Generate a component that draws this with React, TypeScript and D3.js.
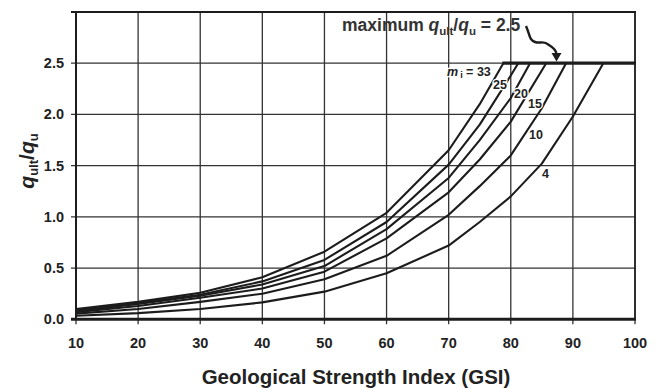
import React from "react";
import * as d3 from "d3";

const W = 660;
const H = 388;

const xTicks = [10, 20, 30, 40, 50, 60, 70, 80, 90, 100];
const yTicks = [0, 0.5, 1.0, 1.5, 2.0, 2.5, 3.0];
const yTickLabels = ["0.0", "0.5", "1.0", "1.5", "2.0", "2.5", ""];
const capValue = 2.5;

const series33: [number, number][] = [[10, 0.1], [20, 0.17], [30, 0.26], [40, 0.41], [50, 0.66], [60, 1.04], [70, 1.65], [75, 2.1], [78.8, 2.5]];
const series25: [number, number][] = [[10, 0.09], [20, 0.16], [30, 0.24], [40, 0.37], [50, 0.58], [60, 0.95], [70, 1.51], [75, 1.9], [80, 2.38], [81.2, 2.5]];
const series20: [number, number][] = [[10, 0.08], [20, 0.15], [30, 0.23], [40, 0.34], [50, 0.52], [60, 0.88], [70, 1.38], [75, 1.75], [80, 2.16], [83.1, 2.5]];
const series15: [number, number][] = [[10, 0.07], [20, 0.13], [30, 0.21], [40, 0.3], [50, 0.465], [60, 0.79], [70, 1.24], [75, 1.56], [80, 1.93], [85.7, 2.5]];
const series10: [number, number][] = [[10, 0.055], [20, 0.1], [30, 0.17], [40, 0.25], [50, 0.39], [60, 0.62], [70, 1.02], [75, 1.3], [80, 1.6], [85, 2.06], [88.9, 2.5]];
const series4: [number, number][] = [[10, 0.035], [20, 0.06], [30, 0.1], [40, 0.165], [50, 0.27], [60, 0.45], [70, 0.72], [75, 0.95], [80, 1.2], [85, 1.52], [90, 1.98], [94.9, 2.5]];

const allSeries = [series33, series25, series20, series15, series10, series4];

const left = 76;
const right = 635;
const top = 12;
const bottom = 319.3;

export default function App() {
  const x = d3.scaleLinear().domain([10, 100]).range([left, right]);
  const y = d3.scaleLinear().domain([0, 3]).range([bottom, top]);
  const line = d3
    .line<[number, number]>()
    .x((d) => x(d[0]))
    .y((d) => y(d[1]))
    .curve(d3.curveLinear);

  const ink = "#1c1c1c";
  const grid = "#333";
  const font = "'Liberation Sans', Arial, Helvetica, sans-serif";

  const capStart = d3.min(allSeries, (s) => s[s.length - 1][0]) as number;

  return (
    <svg
      width={W}
      height={H}
      style={{ position: "absolute", left: 0, top: 0, background: "#fff" }}
      fontFamily={font}
    >
      {/* grid */}
      {xTicks.map((t) => (
        <line key={"gx" + t} x1={x(t)} x2={x(t)} y1={y(3)} y2={bottom + 5} stroke={grid} strokeWidth={1.3} />
      ))}
      {yTicks.map((t) => (
        <line key={"gy" + t} x1={left - 5} x2={right} y1={y(t)} y2={y(t)} stroke={grid} strokeWidth={1.3} />
      ))}
      {/* borders */}
      <line x1={left - 5} x2={right + 1} y1={y(3)} y2={y(3)} stroke={ink} strokeWidth={2.2} />
      <line x1={left} x2={left} y1={y(3)} y2={bottom} stroke={ink} strokeWidth={2} />
      <line x1={right} x2={right} y1={y(3)} y2={bottom} stroke={ink} strokeWidth={1.6} />
      <line x1={left - 5} x2={right + 1} y1={bottom} y2={bottom} stroke={ink} strokeWidth={3} />

      {/* curves */}
      {allSeries.map((s, i) => (
        <path key={"s" + i} d={line(s) || ""} fill="none" stroke={ink} strokeWidth={2.1} strokeLinejoin="round" />
      ))}
      {/* cap line */}
      <line x1={x(capStart) - 1} x2={x(100) + 1} y1={y(capValue)} y2={y(capValue)} stroke={ink} strokeWidth={3.2} />

      {/* tick labels */}
      {xTicks.map((t) => (
        <text key={"xl" + t} x={x(t)} y={347.5} textAnchor="middle" fontSize={14.5} fontWeight="bold" fill="#222">
          {t}
        </text>
      ))}
      {yTicks.map((t, i) => (
        <text key={"yl" + t} x={64} y={y(t) + 5} textAnchor="end" fontSize={14.5} fontWeight="bold" fill="#222">
          {yTickLabels[i]}
        </text>
      ))}

      {/* axis titles */}
      <text x={356} y={384} textAnchor="middle" fontSize={20.5} fontWeight="bold" fill="#222">
        Geological Strength Index (GSI)
      </text>
      <text
        transform="translate(34,161) rotate(-90)"
        textAnchor="middle"
        fontSize={21}
        fontWeight="bold"
        fill="#222"
      >
        <tspan fontStyle="italic">q</tspan>
        <tspan fontSize={13} dy={4}>ult</tspan>
        <tspan dy={-4}>/</tspan>
        <tspan fontStyle="italic">q</tspan>
        <tspan fontSize={13} dy={4}>u</tspan>
      </text>

      {/* annotation */}
      <text x={342} y={31} fontSize={17.5} fontWeight="bold" fill="#333">
        <tspan>maximum </tspan>
        <tspan fontStyle="italic">q</tspan>
        <tspan fontSize={11.5} dy={3.5}>ult</tspan>
        <tspan dy={-3.5}>/</tspan>
        <tspan fontStyle="italic">q</tspan>
        <tspan fontSize={11.5} dy={3.5}>u</tspan>
        <tspan dy={-3.5}> = 2.5</tspan>
      </text>
      <path
        d="M526,26 C530,35 529,40 535,42 C541,44 543,40 549,45 C554,48 556,50 556.5,54"
        fill="none"
        stroke={ink}
        strokeWidth={2.4}
      />
      <path d="M551.5,53 L561.5,53 L556.5,61.5 Z" fill={ink} />

      {/* mi labels */}
      <g fontWeight="bold" fontSize={12.5} fill="#222" stroke="#fff" strokeWidth={2.5} paintOrder="stroke">
        <text x={447} y={76}>
          <tspan fontStyle="italic">m</tspan>
          <tspan fontSize={9} dy={2} dx={2}>i</tspan>
          <tspan dy={-2}> = 33</tspan>
        </text>
        <text x={493} y={88.5}>25</text>
        <text x={514} y={98}>20</text>
        <text x={528} y={108}>15</text>
        <text x={529} y={139}>10</text>
        <text x={542} y={178}>4</text>
      </g>
    </svg>
  );
}
